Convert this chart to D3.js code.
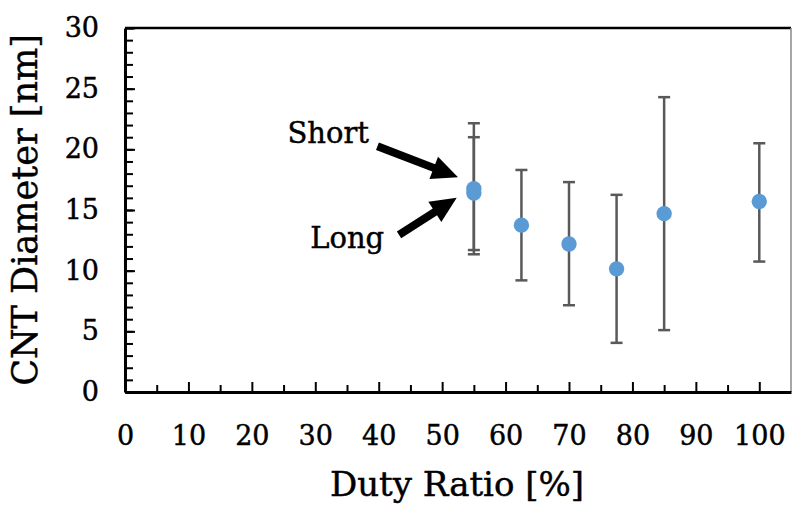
<!DOCTYPE html>
<html>
<head>
<meta charset="utf-8">
<script src="https://cdn.jsdelivr.net/npm/d3@7"></script>
<style>
  html, body { margin: 0; padding: 0; background: #fff; }
  svg { display: block; }
  text { font-family: "DejaVu Serif", serif; fill: #000; stroke: #000; stroke-width: 0.45px; }
</style>
</head>
<body>
<svg id="chart" width="792" height="506"></svg>
<script>
// Duty ratio (%) of each measurement group
const dutyRatio = [55, 55, 62.5, 70, 77.5, 85, 100];
// Mean CNT diameter (nm)
const meanDiameter = [16.75, 16.4, 13.75, 12.2, 10.15, 14.7, 15.7];
// Upper / lower ends of the error bars (nm)
const upperBar = [22.15, 21.0, 18.3, 17.3, 16.25, 24.3, 20.5];
const lowerBar = [11.35, 11.7, 9.2, 7.15, 4.05, 5.1, 10.75];
// Group names for the two overlapping 55 % points
const groupName = ["Short", "Long", "", "", "", "", ""];

// Axis ticks
const xMajorTicks = [0, 10, 20, 30, 40, 50, 60, 70, 80, 90, 100];
const xMinorTicks = [5, 15, 25, 35, 45, 55, 65, 75, 85, 95];
const yMajorTicks = [0, 5, 10, 15, 20, 25, 30];
const yMinorTicks = d3.range(0, 31);

// Callout labels and arrows, in data units
const calloutLabel = ["Short", "Long"];
const calloutTextAt = [[25.6, 20.5], [29.2, 11.9]];
const calloutArrowFrom = [[39.8, 20.25], [43.2, 12.95]];
const calloutArrowTo = [[52.5, 17.7], [52.3, 16.0]];

const svg = d3.select("#chart");
const margin = { left: 125, right: 1, top: 28, bottom: 114 };
const W = 792, H = 506;

const x = d3.scaleLinear().domain([0, 105]).range([margin.left, W - margin.right]);
const y = d3.scaleLinear().domain([0, 30]).range([H - margin.bottom, margin.top]);

// Frame: top and right edges
svg.append("line")
  .attr("x1", x(0)).attr("x2", x(105)).attr("y1", y(30)).attr("y2", y(30))
  .attr("stroke", "#000").attr("stroke-width", 2.5);
svg.append("line")
  .attr("x1", x(105)).attr("x2", x(105)).attr("y1", y(30)).attr("y2", y(0))
  .attr("stroke", "#888").attr("stroke-width", 1.5);

// Minor ticks (inward)
svg.append("g").attr("transform", `translate(0,${y(0)})`)
  .call(d3.axisBottom(x).tickValues(xMinorTicks).tickSize(-7).tickFormat(""))
  .call(g => g.select(".domain").remove())
  .call(g => g.selectAll("line").attr("stroke", "#000").attr("stroke-width", 2));
svg.append("g").attr("transform", `translate(${x(0)},0)`)
  .call(d3.axisLeft(y).tickValues(yMinorTicks).tickSize(-8).tickFormat(""))
  .call(g => g.select(".domain").remove())
  .call(g => g.selectAll("line").attr("stroke", "#000").attr("stroke-width", 2));

// Major ticks with labels
const xAxis = svg.append("g").attr("transform", `translate(0,${y(0)})`)
  .call(d3.axisBottom(x).tickValues(xMajorTicks).tickSize(-10).tickPadding(34).tickSizeOuter(0));
const yAxis = svg.append("g").attr("transform", `translate(${x(0)},0)`)
  .call(d3.axisLeft(y).tickValues(yMajorTicks).tickSize(-10).tickPadding(26).tickSizeOuter(0));
[xAxis, yAxis].forEach(ax => {
  ax.select(".domain").attr("stroke", "#000").attr("stroke-width", 3);
  ax.selectAll(".tick line").attr("stroke", "#000").attr("stroke-width", 2);
  ax.selectAll(".tick text")
    .attr("font-family", "DejaVu Serif").attr("font-size", 27).attr("fill", "#000");
});

// Axis titles
svg.append("text")
  .attr("x", x(0) + (x(105) - x(0)) / 2 - 1).attr("y", 496)
  .attr("text-anchor", "middle").attr("font-size", 34)
  .text("Duty Ratio [%]");
svg.append("text")
  .attr("transform", `translate(37,${(y(0) + y(30)) / 2}) rotate(-90)`)
  .attr("text-anchor", "middle").attr("font-size", 35)
  .text("CNT Diameter [nm]");

// Error bars
const pts = dutyRatio.map((d, i) => ({
  x: d, m: meanDiameter[i], hi: upperBar[i], lo: lowerBar[i], name: groupName[i]
}));
const capHalf = 6;
const eb = svg.append("g").attr("stroke", "#595959").attr("stroke-width", 2.5);
pts.forEach(p => {
  eb.append("line").attr("x1", x(p.x)).attr("x2", x(p.x)).attr("y1", y(p.hi)).attr("y2", y(p.lo));
  [p.hi, p.lo].forEach(v => {
    eb.append("line").attr("x1", x(p.x) - capHalf).attr("x2", x(p.x) + capHalf)
      .attr("y1", y(v)).attr("y2", y(v));
  });
});

// Mean points
svg.append("g").selectAll("circle").data(pts).join("circle")
  .attr("cx", d => x(d.x)).attr("cy", d => y(d.m)).attr("r", 7.7)
  .attr("fill", "#5B9BD5");

// Callouts
calloutLabel.forEach((t, i) => {
  svg.append("text")
    .attr("x", x(calloutTextAt[i][0])).attr("y", y(calloutTextAt[i][1]))
    .attr("font-size", 29).text(t);
  const x0 = x(calloutArrowFrom[i][0]), y0 = y(calloutArrowFrom[i][1]);
  const x1 = x(calloutArrowTo[i][0]), y1 = y(calloutArrowTo[i][1]);
  const ang = Math.atan2(y1 - y0, x1 - x0);
  const headLen = 26, headHalf = 12, shaft = 8;
  const bx = x1 - headLen * Math.cos(ang), by = y1 - headLen * Math.sin(ang);
  svg.append("line")
    .attr("x1", x0).attr("y1", y0).attr("x2", bx + 2 * Math.cos(ang)).attr("y2", by + 2 * Math.sin(ang))
    .attr("stroke", "#000").attr("stroke-width", shaft);
  const nx = -Math.sin(ang), ny = Math.cos(ang);
  svg.append("path")
    .attr("d", `M${x1},${y1}L${bx + headHalf * nx},${by + headHalf * ny}L${bx - headHalf * nx},${by - headHalf * ny}Z`)
    .attr("fill", "#000");
});
</script>
</body>
</html>
